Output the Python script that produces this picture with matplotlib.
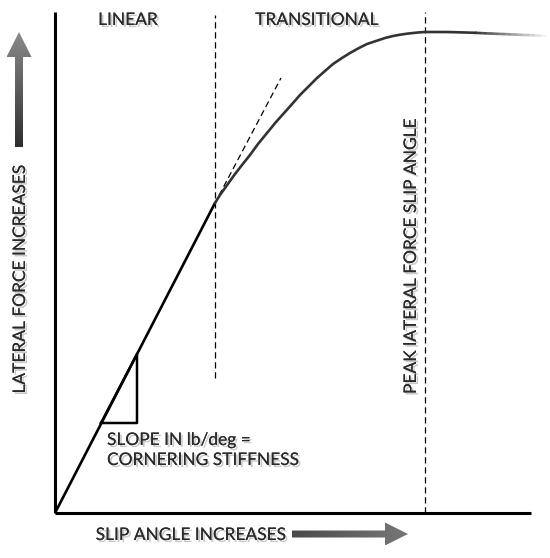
import numpy as np
import matplotlib
matplotlib.use("Agg")
import matplotlib.pyplot as plt
from matplotlib import patheffects as pe
from matplotlib.patches import FancyArrow
from matplotlib.collections import LineCollection

# curve (x = slip angle, y = lateral force), arbitrary units
slip = [0, 160, 165, 170, 175, 180, 187, 195, 203, 212, 221, 230, 238, 245, 254, 262,
        270, 278, 287, 295, 304, 312, 321, 330, 338, 345, 352, 358, 364, 370, 380, 390,
        400, 410, 420]
force = [0, 310, 318, 325, 332, 339, 348, 358, 369, 380, 391, 401, 410, 418, 427, 435,
         442, 449, 455, 460, 465, 469, 472, 475, 477, 478.3, 479.3, 480, 480.6, 481, 481,
         481, 480.8, 480.5, 480.2]
# fading tail beyond the peak
tail_x = [420, 426, 432, 438, 444, 450, 456, 462, 468, 474, 480, 486, 492]
tail_y = [480.2, 479.9, 479.6, 479.4, 479.1, 478.9, 478.6, 478.4, 478.1, 477.9, 477.6, 477.4, 477.1]

tangent_x = [150, 226]
tangent_y = [291, 435]
triangle_x = [46, 82, 82]
triangle_y = [90, 90, 159]

linear_end = 160      # end of linear region
peak_slip = 370       # peak lateral force slip angle
x_max, y_max = 476, 501

txt = "#2a2a2a"
font = "Lato"
shadow = [pe.withSimplePatchShadow(offset=(1.5, -1.5), shadow_rgbFace="#888888", alpha=0.45), pe.Normal()]

fig = plt.figure(figsize=(5.5, 5.58), dpi=100)
ax = fig.add_axes([0, 0, 1, 1])
ax.set_xlim(-55, 495)
ax.set_ylim(-45, 513)
ax.axis("off")

# axes lines
ax.plot([0, 0], [0, y_max], color="black", lw=2.2, solid_capstyle="butt")
ax.plot([0, x_max], [0, 0], color="black", lw=2.2, solid_capstyle="butt")

# region separators
ax.plot([linear_end, linear_end], [135, 498], color="black", lw=0.9, ls=(0, (5, 3)))
ax.plot([peak_slip, peak_slip], [0, y_max], color="black", lw=0.9, ls=(0, (5, 3)))

# tangent
ax.plot(tangent_x, tangent_y, color="black", lw=0.9, ls=(0, (5, 3)))

# main curve
ax.plot(slip[:2], force[:2], color="black", lw=1.9, solid_capstyle="butt")
ax.plot(slip[1:], force[1:], color="#333333", lw=1.9, solid_joinstyle="round")
pts = np.array([tail_x, tail_y]).T.reshape(-1, 1, 2)
segs = np.concatenate([pts[:-1], pts[1:]], axis=1)
alphas = np.linspace(0.95, 0.05, len(segs))
cols = [(0.2, 0.2, 0.2, a) for a in alphas]
ax.add_collection(LineCollection(segs, colors=cols, linewidths=1.9, capstyle="butt"))

# slope triangle
ax.plot(triangle_x + [triangle_x[0]], triangle_y + [triangle_y[0]], color="black", lw=1.8)


def gradient_arrow(x, y, dx, dy, w, hw, hl, c0, c1, horizontal):
    arr = FancyArrow(x, y, dx, dy, width=w, head_width=hw, head_length=hl,
                     length_includes_head=True, fc="none", ec="none")
    ax.add_patch(arr)
    if horizontal:
        grad = np.linspace(0, 1, 100).reshape(1, -1)
        ext = [x, x + dx, y - hw / 2, y + hw / 2]
    else:
        grad = np.linspace(0, 1, 100).reshape(-1, 1)
        ext = [x - hw / 2, x + hw / 2, y, y + dy]
    cmap = matplotlib.colors.LinearSegmentedColormap.from_list("g", [c0, c1])
    im = ax.imshow(grad, extent=ext, origin="lower", cmap=cmap, aspect="auto", zorder=3)
    im.set_clip_path(arr)


gradient_arrow(-36, 366, 0, 115, 8, 25, 25, "#2e2e2e", "#8a8a8a", False)
gradient_arrow(237, -21, 116, 0, 7, 23, 23, "#4a4a4a", "#777777", True)
ax.set_xlim(-55, 495)
ax.set_ylim(-45, 513)

# labels
kw = dict(color=txt, family=font, fontsize=12.5, path_effects=shadow)
ax.text(73, 493, "LINEAR", ha="center", va="center", **kw)
ax.text(262, 493, "TRANSITIONAL", ha="center", va="center", **kw)
ax.text(-35, 234, "LATERAL FORCE INCREASES", ha="center", va="center", rotation=90, **kw)
ax.text(356, 119, "PEAK lATERAL FORCE SLIP ANGLE", ha="center", va="bottom", rotation=90, **kw)
ax.text(52, 73, "SLOPE IN lb/deg =", ha="left", va="center", **kw)
ax.text(52, 53, "CORNERING STIFFNESS", ha="left", va="center", **kw)
ax.text(136, -22, "SLIP ANGLE INCREASES", ha="center", va="center", **kw)

fig.savefig("out.png", dpi=100)
